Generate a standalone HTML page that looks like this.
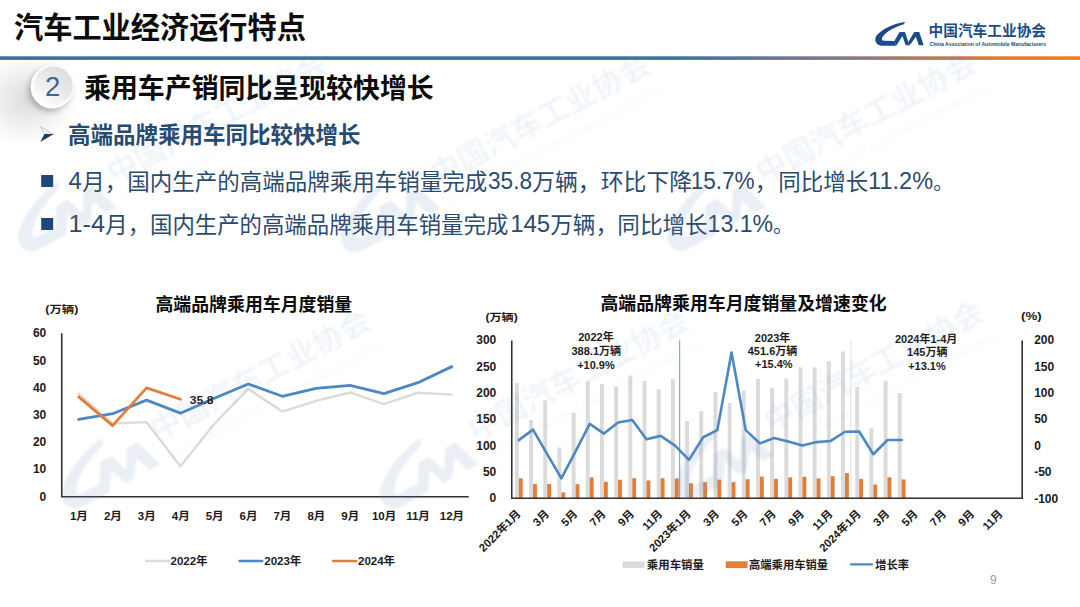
<!DOCTYPE html>
<html lang="zh-CN"><head><meta charset="utf-8"><title>汽车工业经济运行特点</title>
<style>
html,body{margin:0;padding:0;background:#fff;}
body{width:1080px;height:607px;overflow:hidden;position:relative;font-family:"Liberation Sans","Noto Sans CJK SC",sans-serif;}
svg{position:absolute;left:0;top:0;display:block;}
svg text{font-family:"Liberation Sans","Noto Sans CJK SC",sans-serif;}
.k{fill:#1c1c1c;font-weight:bold;}
.b{fill:#2b4a70;}
</style></head><body>
<svg width="1080" height="607" viewBox="0 0 1080 607">
<defs>
<linearGradient id="rule" x1="0" y1="0" x2="1" y2="0">
<stop offset="0" stop-color="#386fa9"/><stop offset="0.62" stop-color="#3f6fa8"/><stop offset="0.80" stop-color="#8d7a84"/><stop offset="0.93" stop-color="#e27b2b"/><stop offset="1" stop-color="#ef7d20"/>
</linearGradient>
<radialGradient id="shd" cx="0.5" cy="0.5" r="0.5"><stop offset="0" stop-color="#000" stop-opacity="0.13"/><stop offset="0.55" stop-color="#000" stop-opacity="0.06"/><stop offset="1" stop-color="#000" stop-opacity="0"/></radialGradient>
<linearGradient id="badge" x1="0.85" y1="0.1" x2="0.2" y2="0.95"><stop offset="0" stop-color="#dcdde0"/><stop offset="0.55" stop-color="#ececee"/><stop offset="1" stop-color="#ffffff"/></linearGradient>
<filter id="bsh" x="-50%" y="-50%" width="200%" height="200%"><feDropShadow dx="-2.5" dy="3" stdDeviation="3" flood-color="#000" flood-opacity="0.28"/></filter>
<filter id="wblur" x="-5%" y="-5%" width="110%" height="110%"><feGaussianBlur stdDeviation="0.9"/></filter>
<g id="lg"><g transform="translate(870,16) scale(0.05931)" stroke="none"><path d="M590,100 C400,125 200,220 110,330 C65,400 95,485 180,500 L440,500 L412,420 L232,418 C195,415 193,382 215,350 C290,250 430,182 570,140 Z"/><path d="M410,422 L500,268 L590,268 L665,495 L600,495 L548,338 L442,500 Z"/><path d="M646,440 L745,268 L830,268 L905,495 L822,495 L773,348 L668,497 Z"/></g><text x="928.51" y="35.64" font-size="14.7" font-weight="bold" stroke="none">中国汽车工业协会</text><text x="929.53" y="46.32" font-size="5.2" font-weight="bold" stroke="none" textLength="116.7" lengthAdjust="spacingAndGlyphs">China Association of Automobile Manufacturers</text></g>
<g id="lgw"><g transform="translate(870,16) scale(0.05931)" stroke-width="18" stroke-linejoin="round"><path d="M590,100 C400,125 200,220 110,330 C65,400 95,485 180,500 L440,500 L412,420 L232,418 C195,415 193,382 215,350 C290,250 430,182 570,140 Z"/><path d="M410,422 L500,268 L590,268 L665,495 L600,495 L548,338 L442,500 Z"/><path d="M646,440 L745,268 L830,268 L905,495 L822,495 L773,348 L668,497 Z"/></g><g opacity="0.8"><text x="928.43" y="35.71" font-size="14.7" font-weight="500" stroke="none">中国汽车工业协会</text></g><g opacity="0.45"><text x="929.49" y="46.33" font-size="5.3" stroke="none" textLength="116.8" lengthAdjust="spacingAndGlyphs">China Association of Automobile Manufacturers</text></g></g>
</defs>
<rect x="0" y="0" width="1080" height="607" fill="#ffffff"/>
<ellipse cx="26" cy="100" rx="52" ry="46" fill="url(#shd)"/>
<rect x="0" y="56.15" width="1080" height="3.75" fill="url(#rule)"/>
<rect x="0" y="56.15" width="1080" height="0.8" fill="#ffffff" opacity="0.22"/>
<text x="14.02" y="38.26" font-size="29.2" font-weight="bold" fill="#0c0c0c">汽车工业经济运行特点</text>
<use href="#lg" fill="#1b4b88" stroke="#1b4b88"/>
<circle cx="52.1" cy="87" r="21.3" fill="#ffffff" filter="url(#bsh)"/>
<circle cx="53.1" cy="86" r="19.6" fill="url(#badge)"/>
<text x="45.01" y="96.3" font-size="27.5" fill="#3e6692">2</text>
<text x="84.1" y="97.96" font-size="26.9" font-weight="bold" fill="#0c0c0c">乘用车产销同比呈现较快增长</text>
<path d="M40.4,126.7 L53.7,134.1 L44.4,134.1 Z" fill="#f4f6f9" stroke="#9aa3ad" stroke-width="0.5"/>
<path d="M44.4,134.1 L53.7,134.1 L40.4,141.9 Z" fill="#1f3f66"/>
<text x="68.01" y="143.43" font-size="22.5" font-weight="bold" fill="#274a73">高端品牌乘用车同比较快增长</text>
<rect x="41.2" y="175" width="12" height="12" fill="#1f4877"/>
<rect x="41.2" y="218" width="12" height="12" fill="#1f4877"/>
<text class="b" x="68.39" y="189.2" font-size="23.8">4</text>
<text class="b" x="82.35" y="190.1" font-size="22.5">月，国内生产的高端品牌乘用车销量完成</text>
<text class="b" x="488.04" y="189.2" font-size="23" textLength="44" lengthAdjust="spacingAndGlyphs">35.8</text>
<text class="b" x="532.02" y="190.1" font-size="22.9">万辆，环比下降</text>
<text class="b" x="690.63" y="189.2" font-size="23" textLength="64" lengthAdjust="spacingAndGlyphs">15.7%</text>
<text class="b" x="754.8" y="190.1" font-size="22.5">，</text>
<text class="b" x="778.22" y="190.1" font-size="22.5">同比增长</text>
<text class="b" x="868.1" y="189.2" font-size="23" textLength="65" lengthAdjust="spacingAndGlyphs">11.2%</text>
<text class="b" x="933.32" y="190.24" font-size="20">。</text>
<text class="b" x="68.58" y="231.85" font-size="24" textLength="36.5" lengthAdjust="spacingAndGlyphs">1-4</text>
<text class="b" x="105.25" y="232.75" font-size="22.4">月，国内生产的高端品牌乘用车销量完成</text>
<text class="b" x="510.16" y="231.85" font-size="24" textLength="40" lengthAdjust="spacingAndGlyphs">145</text>
<text class="b" x="550.23" y="232.75" font-size="22.6">万辆</text>
<text class="b" x="595.6" y="232.75" font-size="22.5">，</text>
<text class="b" x="617.31" y="232.75" font-size="22.6">同比增长</text>
<text class="b" x="707.58" y="231.85" font-size="23" textLength="65.5" lengthAdjust="spacingAndGlyphs">13.1%</text>
<text class="b" x="773.03" y="233.04" font-size="20">。</text>
<text x="155.43" y="311.13" font-size="17.9" font-weight="bold" fill="#0c0c0c">高端品牌乘用车月度销量</text>
<text class="k" x="45.39" y="313.16" font-size="10" textLength="33" lengthAdjust="spacingAndGlyphs">(万辆)</text>
<text class="k" x="46.3" y="500.65" font-size="12" text-anchor="end">0</text>
<text class="k" x="46.3" y="473.42" font-size="12" text-anchor="end">10</text>
<text class="k" x="46.3" y="446.2" font-size="12" text-anchor="end">20</text>
<text class="k" x="46.3" y="418.97" font-size="12" text-anchor="end">30</text>
<text class="k" x="46.3" y="391.75" font-size="12" text-anchor="end">40</text>
<text class="k" x="46.3" y="364.52" font-size="12" text-anchor="end">50</text>
<text class="k" x="46.3" y="337.3" font-size="12" text-anchor="end">60</text>
<polyline points="78.71,393.57 112.62,423.51 146.54,422.15 180.46,466.26 214.38,423.79 248.29,388.94 282.21,411.54 316.12,400.92 350.04,392.48 383.96,404.19 417.88,392.75 451.79,394.66" fill="none" stroke="#dbdbdb" stroke-width="2.4" stroke-linejoin="round" stroke-linecap="round"/>
<polyline points="78.71,419.43 112.62,413.71 146.54,400.1 180.46,413.17 214.38,398.2 248.29,384.04 282.21,396.29 316.12,388.39 350.04,385.4 383.96,393.57 417.88,382.68 451.79,366.61" fill="none" stroke="#4d87c6" stroke-width="2.8" stroke-linejoin="round" stroke-linecap="round"/>
<polyline points="78.71,396.83 112.62,425.69 146.54,387.85 180.46,399.28" fill="none" stroke="#e37e3a" stroke-width="2.8" stroke-linejoin="round" stroke-linecap="round"/>
<path d="M61.75,333.2 V496.75 H468.75" fill="none" stroke="#303030" stroke-width="1.6"/>
<text class="k" x="189.85" y="403.53" font-size="10.5" textLength="23.5" lengthAdjust="spacingAndGlyphs">35.8</text>
<text class="k" x="78.9" y="519.8" font-size="11.5" text-anchor="middle">1月</text>
<text class="k" x="112.9" y="519.8" font-size="11.5" text-anchor="middle">2月</text>
<text class="k" x="146.8" y="519.8" font-size="11.5" text-anchor="middle">3月</text>
<text class="k" x="180.7" y="519.8" font-size="11.5" text-anchor="middle">4月</text>
<text class="k" x="214.6" y="519.8" font-size="11.5" text-anchor="middle">5月</text>
<text class="k" x="248.5" y="519.8" font-size="11.5" text-anchor="middle">6月</text>
<text class="k" x="282.4" y="519.8" font-size="11.5" text-anchor="middle">7月</text>
<text class="k" x="316.4" y="519.8" font-size="11.5" text-anchor="middle">8月</text>
<text class="k" x="350.3" y="519.8" font-size="11.5" text-anchor="middle">9月</text>
<text class="k" x="384.1" y="519.8" font-size="11.5" text-anchor="middle">10月</text>
<text class="k" x="418" y="519.8" font-size="11.5" text-anchor="middle">11月</text>
<text class="k" x="451.9" y="519.8" font-size="11.5" text-anchor="middle">12月</text>
<line x1="146.25" y1="561" x2="169.5" y2="561" stroke="#dbdbdb" stroke-width="2.4" stroke-linecap="round"/>
<text class="k" x="170.5" y="565.15" font-size="11.5">2022年</text>
<line x1="239.5" y1="561" x2="262.3" y2="561" stroke="#4d87c6" stroke-width="2.4" stroke-linecap="round"/>
<text class="k" x="264.25" y="565.15" font-size="11.5">2023年</text>
<line x1="333" y1="561" x2="356.3" y2="561" stroke="#e37e3a" stroke-width="2.4" stroke-linecap="round"/>
<text class="k" x="358" y="565.15" font-size="11.5">2024年</text>
<text x="600.43" y="309.79" font-size="17.9" font-weight="bold" fill="#0c0c0c">高端品牌乘用车月度销量及增速变化</text>
<text class="k" x="485.4" y="321.16" font-size="10" textLength="32.4" lengthAdjust="spacingAndGlyphs">(万辆)</text>
<text class="k" x="1021.04" y="320.23" font-size="10" textLength="20.6" lengthAdjust="spacingAndGlyphs">(%)</text>
<g fill="#dbdbdb"><rect x="514.94" y="383.24" width="3.9" height="115.06"/><rect x="529.12" y="420.03" width="3.9" height="78.27"/><rect x="543.3" y="400.19" width="3.9" height="98.11"/><rect x="557.48" y="447.51" width="3.9" height="50.79"/><rect x="571.66" y="412.88" width="3.9" height="85.42"/><rect x="585.84" y="381.35" width="3.9" height="116.95"/><rect x="600.01" y="383.88" width="3.9" height="114.42"/><rect x="614.19" y="386.45" width="3.9" height="111.85"/><rect x="628.37" y="375.56" width="3.9" height="122.74"/><rect x="642.55" y="380.88" width="3.9" height="117.42"/><rect x="656.73" y="389.09" width="3.9" height="109.21"/><rect x="670.91" y="379.09" width="3.9" height="119.21"/><rect x="685.09" y="420.98" width="3.9" height="77.32"/><rect x="699.27" y="411.3" width="3.9" height="87"/><rect x="713.45" y="392.14" width="3.9" height="106.16"/><rect x="727.63" y="402.98" width="3.9" height="95.32"/><rect x="741.81" y="390.35" width="3.9" height="107.95"/><rect x="755.99" y="378.93" width="3.9" height="119.37"/><rect x="770.16" y="387.77" width="3.9" height="110.53"/><rect x="784.34" y="378.66" width="3.9" height="119.64"/><rect x="798.52" y="367.4" width="3.9" height="130.9"/><rect x="812.7" y="367.35" width="3.9" height="130.95"/><rect x="826.88" y="361.24" width="3.9" height="137.06"/><rect x="841.06" y="351.35" width="3.9" height="146.95"/><rect x="855.24" y="386.98" width="3.9" height="111.32"/><rect x="869.42" y="428.14" width="3.9" height="70.16"/><rect x="883.6" y="380.61" width="3.9" height="117.69"/><rect x="897.78" y="392.98" width="3.9" height="105.32"/></g>
<g fill="#e37e3a"><rect x="518.84" y="478.35" width="3.9" height="19.95"/><rect x="533.02" y="484.14" width="3.9" height="14.16"/><rect x="547.2" y="483.88" width="3.9" height="14.42"/><rect x="561.38" y="492.41" width="3.9" height="5.89"/><rect x="575.56" y="484.19" width="3.9" height="14.11"/><rect x="589.74" y="477.46" width="3.9" height="20.84"/><rect x="603.91" y="481.83" width="3.9" height="16.47"/><rect x="618.09" y="479.77" width="3.9" height="18.53"/><rect x="632.27" y="478.14" width="3.9" height="20.16"/><rect x="646.45" y="480.4" width="3.9" height="17.9"/><rect x="660.63" y="478.19" width="3.9" height="20.11"/><rect x="674.81" y="478.56" width="3.9" height="19.74"/><rect x="688.99" y="483.35" width="3.9" height="14.95"/><rect x="703.17" y="482.25" width="3.9" height="16.05"/><rect x="717.35" y="479.62" width="3.9" height="18.68"/><rect x="731.53" y="482.14" width="3.9" height="16.16"/><rect x="745.71" y="479.25" width="3.9" height="19.05"/><rect x="759.89" y="476.51" width="3.9" height="21.79"/><rect x="774.06" y="478.88" width="3.9" height="19.42"/><rect x="788.24" y="477.35" width="3.9" height="20.95"/><rect x="802.42" y="476.77" width="3.9" height="21.53"/><rect x="816.6" y="478.35" width="3.9" height="19.95"/><rect x="830.78" y="476.25" width="3.9" height="22.05"/><rect x="844.96" y="473.14" width="3.9" height="25.16"/><rect x="859.14" y="478.98" width="3.9" height="19.32"/><rect x="873.32" y="484.56" width="3.9" height="13.74"/><rect x="887.5" y="477.25" width="3.9" height="21.05"/><rect x="901.68" y="479.46" width="3.9" height="18.84"/></g>
<line x1="679.7" y1="340.4" x2="679.7" y2="498.3" stroke="#56779f" stroke-width="0.8"/>
<line x1="850.8" y1="340.4" x2="850.8" y2="498.3" stroke="#d6e4f2" stroke-width="0.9"/>
<polyline points="518.84,440.09 533.02,429.61 547.2,454.09 561.38,478.3 575.56,451.46 589.74,423.82 603.91,433.56 618.09,422.51 632.27,420.09 646.45,439.35 660.63,435.88 674.81,445.4 688.99,459.88 703.17,437.25 717.35,430.09 731.53,352.51 745.71,430.09 759.89,443.4 774.06,438.09 788.24,441.46 802.42,445.4 816.6,442.09 830.78,440.93 844.96,431.72 859.14,431.46 873.32,454.25 887.5,439.98 901.68,439.98" fill="none" stroke="#4d87c6" stroke-width="2.6" stroke-linejoin="round" stroke-linecap="round"/>
<path d="M511.75,340.4 V498.3 H1022.2 V340.4" fill="none" stroke="#303030" stroke-width="1.6"/>
<text class="k" x="496.3" y="344.4" font-size="12" text-anchor="end">300</text>
<text class="k" x="496.3" y="370.73" font-size="12" text-anchor="end">250</text>
<text class="k" x="496.3" y="397.06" font-size="12" text-anchor="end">200</text>
<text class="k" x="496.3" y="423.39" font-size="12" text-anchor="end">150</text>
<text class="k" x="496.3" y="449.72" font-size="12" text-anchor="end">100</text>
<text class="k" x="496.3" y="476.05" font-size="12" text-anchor="end">50</text>
<text class="k" x="496.3" y="502.38" font-size="12" text-anchor="end">0</text>
<text class="k" x="1034.2" y="344.3" font-size="12">200</text>
<text class="k" x="1034.2" y="370.68" font-size="12">150</text>
<text class="k" x="1034.2" y="397.06" font-size="12">100</text>
<text class="k" x="1034.2" y="423.44" font-size="12">50</text>
<text class="k" x="1034.2" y="449.82" font-size="12">0</text>
<text class="k" x="1034.2" y="476.2" font-size="12">-50</text>
<text class="k" x="1034.2" y="502.58" font-size="12">-100</text>
<text class="k" x="596" y="340.9" font-size="11" text-anchor="middle">2022年</text>
<text class="k" x="596.25" y="354.58" font-size="11" text-anchor="middle">388.1万辆</text>
<text class="k" x="595.95" y="368.51" font-size="11" text-anchor="middle">+10.9%</text>
<text class="k" x="772.55" y="341.64" font-size="11" text-anchor="middle">2023年</text>
<text class="k" x="772.5" y="354.94" font-size="11" text-anchor="middle">451.6万辆</text>
<text class="k" x="773.8" y="368.31" font-size="11" text-anchor="middle">+15.4%</text>
<text class="k" x="926.1" y="342.82" font-size="11" text-anchor="middle">2024年1-4月</text>
<text class="k" x="927.25" y="355.81" font-size="11" text-anchor="middle">145万辆</text>
<text class="k" x="926.95" y="369.71" font-size="11" text-anchor="middle">+13.1%</text>
<text class="k" transform="translate(521.44,514.6) rotate(-45)" font-size="11.2" text-anchor="end">2022年1月</text>
<text class="k" transform="translate(549.8,514.6) rotate(-45)" font-size="11.2" text-anchor="end">3月</text>
<text class="k" transform="translate(578.16,514.6) rotate(-45)" font-size="11.2" text-anchor="end">5月</text>
<text class="k" transform="translate(606.51,514.6) rotate(-45)" font-size="11.2" text-anchor="end">7月</text>
<text class="k" transform="translate(634.87,514.6) rotate(-45)" font-size="11.2" text-anchor="end">9月</text>
<text class="k" transform="translate(663.23,514.6) rotate(-45)" font-size="11.2" text-anchor="end">11月</text>
<text class="k" transform="translate(691.59,514.6) rotate(-45)" font-size="11.2" text-anchor="end">2023年1月</text>
<text class="k" transform="translate(719.95,514.6) rotate(-45)" font-size="11.2" text-anchor="end">3月</text>
<text class="k" transform="translate(748.31,514.6) rotate(-45)" font-size="11.2" text-anchor="end">5月</text>
<text class="k" transform="translate(776.66,514.6) rotate(-45)" font-size="11.2" text-anchor="end">7月</text>
<text class="k" transform="translate(805.02,514.6) rotate(-45)" font-size="11.2" text-anchor="end">9月</text>
<text class="k" transform="translate(833.38,514.6) rotate(-45)" font-size="11.2" text-anchor="end">11月</text>
<text class="k" transform="translate(861.74,514.6) rotate(-45)" font-size="11.2" text-anchor="end">2024年1月</text>
<text class="k" transform="translate(890.1,514.6) rotate(-45)" font-size="11.2" text-anchor="end">3月</text>
<text class="k" transform="translate(918.46,514.6) rotate(-45)" font-size="11.2" text-anchor="end">5月</text>
<text class="k" transform="translate(946.81,514.6) rotate(-45)" font-size="11.2" text-anchor="end">7月</text>
<text class="k" transform="translate(975.17,514.6) rotate(-45)" font-size="11.2" text-anchor="end">9月</text>
<text class="k" transform="translate(1003.53,514.6) rotate(-45)" font-size="11.2" text-anchor="end">11月</text>
<rect x="622.5" y="561.3" width="22" height="6.8" fill="#dbdbdb"/>
<text class="k" x="646.87" y="568.77" font-size="11.4">乘用车销量</text>
<rect x="725.75" y="561.3" width="21.8" height="6.8" fill="#e37e3a"/>
<text class="k" x="749.02" y="568.77" font-size="11.3">高端乘用车销量</text>
<line x1="851" y1="564.4" x2="872" y2="564.4" stroke="#4d87c6" stroke-width="2.2" stroke-linecap="round"/>
<text class="k" x="875.33" y="568.89" font-size="11.2">增长率</text>
<text x="989.94" y="584.25" font-size="12" fill="#9a9a9a">9</text>
<g fill="#6b8fbd" stroke="#6b8fbd" opacity="0.145" filter="url(#wblur)"><use href="#lgw" transform="translate(124.4,166) rotate(-28) scale(2.075) translate(-937,-30)"/><use href="#lgw" transform="translate(447.5,167) rotate(-28) scale(2.075) translate(-937,-30)"/><use href="#lgw" transform="translate(773.6,165.5) rotate(-28) scale(2.075) translate(-937,-30)"/><use href="#lgw" transform="translate(168,423) rotate(-28) scale(2.075) translate(-937,-30)"/><use href="#lgw" transform="translate(486.2,423) rotate(-28) scale(2.075) translate(-937,-30)"/><use href="#lgw" transform="translate(781.5,414.4) rotate(-28) scale(2.075) translate(-937,-30)"/></g>
</svg>
</body></html>
